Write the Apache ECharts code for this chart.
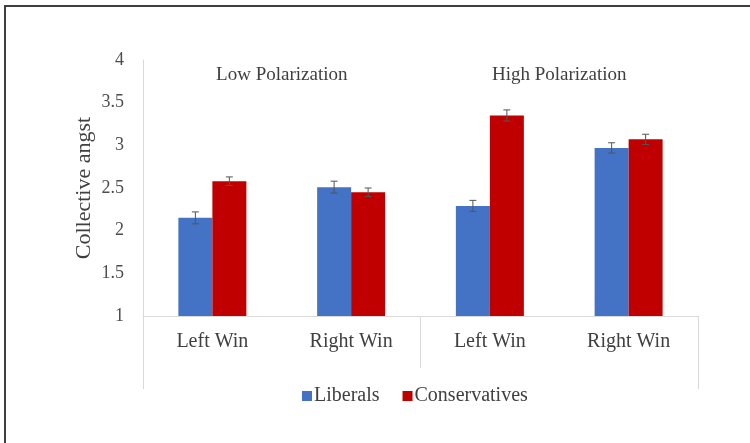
<!DOCTYPE html>
<html>
<head>
<meta charset="utf-8">
<script src="https://cdn.jsdelivr.net/npm/echarts@6/dist/echarts.min.js"></script>
<style>
  html, body { margin: 0; padding: 0; background: #fff; }
  #chart { width: 750px; height: 443px; }
</style>
</head>
<body>
<div id="chart"></div>
<script>
// Collective angst by election outcome, split by polarization level
const categories = ['Left Win', 'Right Win', 'Left Win', 'Right Win'];
const groups = ['Low Polarization', 'High Polarization'];
const liberals = [2.15, 2.51, 2.29, 2.97];
const conservatives = [2.58, 2.45, 3.35, 3.07];
const liberalsErr = [0.07, 0.07, 0.065, 0.06];
const conservativesErr = [0.05, 0.05, 0.065, 0.06];
const yMin = 1, yMax = 4, yStep = 0.5;

const FONT = '"Liberation Serif", "Times New Roman", serif';
const TEXT = '#404040';
const RULE = '#d9d9d9';
const CATEGORY_GAP = 0.51;

// Error bar drawn beside its bar: side -1 for the left bar, +1 for the right one
function errorBars(side) {
  return function (params, api) {
    const ci = api.value(0), v = api.value(1), e = api.value(2);
    const band = api.size([1, 0])[0];
    const barW = band * (1 - CATEGORY_GAP) / 2;
    const x = api.coord([ci, v])[0] + side * barW / 2;
    const yTop = api.coord([ci, v + e])[1];
    const yBot = api.coord([ci, v - e])[1];
    const cap = 3.5;
    const style = { stroke: '#555555', lineWidth: 1 };
    return {
      type: 'group',
      children: [
        { type: 'line', shape: { x1: x, y1: yTop, x2: x, y2: yBot }, style },
        { type: 'line', shape: { x1: x - cap, y1: yTop, x2: x + cap, y2: yTop }, style },
        { type: 'line', shape: { x1: x - cap, y1: yBot, x2: x + cap, y2: yBot }, style }
      ]
    };
  };
}

const chart = echarts.init(document.getElementById('chart'), null, { renderer: 'canvas' });

chart.setOption({
  animation: false,
  backgroundColor: '#ffffff',
  textStyle: { fontFamily: FONT },
  graphic: [{
    type: 'rect',
    shape: { x: 5, y: 6, width: 900, height: 600 },
    style: { fill: 'none', stroke: '#3f3f3f', lineWidth: 2 },
    silent: true
  }],
  grid: { left: 143, right: 52, top: 60, bottom: 127 },
  legend: {
    data: ['Liberals', 'Conservatives'],
    left: 297,
    top: 381,
    icon: 'rect',
    itemWidth: 10,
    itemHeight: 10,
    itemGap: 23,
    textStyle: { fontFamily: FONT, fontSize: 20, color: TEXT, padding: [0, 0, 0, -3] }
  },
  xAxis: [
    {
      type: 'category',
      data: categories,
      position: 'bottom',
      axisLine: { show: true, lineStyle: { color: RULE, width: 1 } },
      axisTick: { show: false },
      axisLabel: { fontFamily: FONT, fontSize: 20, color: TEXT, margin: 16 },
      splitLine: { show: false }
    },
    {
      // divider between the two polarization groups
      type: 'category',
      data: groups,
      position: 'bottom',
      axisLine: { show: false },
      axisTick: { show: true, length: 52, lineStyle: { color: RULE, width: 1 } },
      axisLabel: { show: false },
      splitLine: { show: false }
    },
    {
      // outer edges of the category table below the plot
      type: 'category',
      data: [''],
      position: 'bottom',
      axisLine: { show: false },
      axisTick: { show: true, length: 73, lineStyle: { color: RULE, width: 1 } },
      axisLabel: { show: false },
      splitLine: { show: false }
    },
    {
      // group headings along the top of the plot
      type: 'category',
      data: groups,
      position: 'top',
      axisLine: { show: false },
      axisTick: { show: false },
      axisLabel: { inside: true, fontFamily: FONT, fontSize: 19, color: TEXT, margin: 6 },
      splitLine: { show: false }
    }
  ],
  yAxis: {
    type: 'value',
    min: yMin,
    max: yMax,
    interval: yStep,
    name: 'Collective angst',
    nameLocation: 'middle',
    nameGap: 48,
    nameMoveOverlap: false,
    nameTextStyle: { fontFamily: FONT, fontSize: 22, color: TEXT },
    axisLine: { show: true, lineStyle: { color: RULE, width: 1 } },
    axisTick: { show: false },
    splitLine: { show: false },
    axisLabel: { fontFamily: FONT, fontSize: 18, color: '#4d4d4d', margin: 19 }
  },
  series: [
    {
      name: 'Liberals',
      type: 'bar',
      data: liberals,
      barGap: '0%',
      barCategoryGap: (CATEGORY_GAP * 100) + '%',
      itemStyle: { color: '#4472C4' }
    },
    {
      name: 'Conservatives',
      type: 'bar',
      data: conservatives,
      barGap: '0%',
      barCategoryGap: (CATEGORY_GAP * 100) + '%',
      itemStyle: { color: '#C00000' }
    },
    {
      name: 'Liberals error',
      type: 'custom',
      renderItem: errorBars(-1),
      encode: { x: 0, y: 1 },
      data: liberals.map((v, i) => [i, v, liberalsErr[i]]),
      z: 10,
      silent: true
    },
    {
      name: 'Conservatives error',
      type: 'custom',
      renderItem: errorBars(1),
      encode: { x: 0, y: 1 },
      data: conservatives.map((v, i) => [i, v, conservativesErr[i]]),
      z: 10,
      silent: true
    }
  ]
});
</script>
</body>
</html>
